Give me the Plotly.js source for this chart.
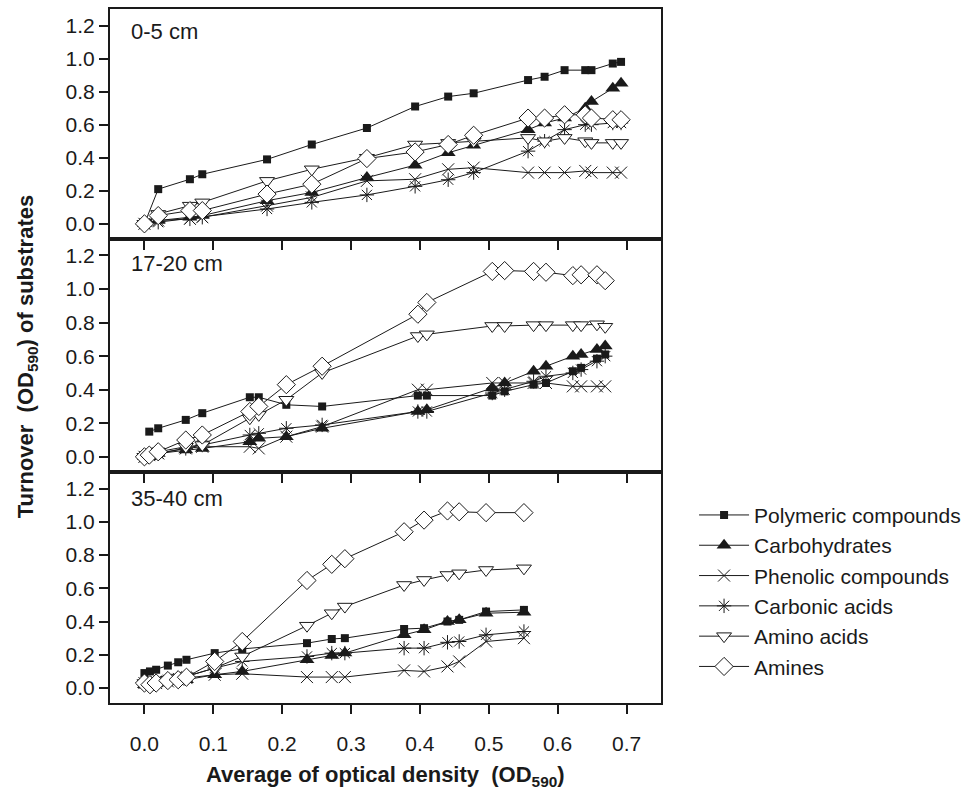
<!DOCTYPE html>
<html>
<head>
<meta charset="utf-8">
<script src="https://cdn.plot.ly/plotly-3.0.1.min.js"></script>
<style>html,body{margin:0;padding:0;background:#fff;}#chart{width:975px;height:799px;}</style>
</head>
<body>
<div id="chart"></div>
<script>
// ---- data ----
const seriesNames = ['Polymeric compounds','Carbohydrates','Phenolic compounds','Carbonic acids','Amino acids','Amines'];
const panelLabels = ['0-5 cm','17-20 cm','35-40 cm'];
const xTickVals = [0,0.1,0.2,0.3,0.4,0.5,0.6,0.7];
const xTickText = ['0.0','0.1','0.2','0.3','0.4','0.5','0.6','0.7'];
const yTickVals = [0,0.2,0.4,0.6,0.8,1.0,1.2];
const yTickText = ['0.0','0.2','0.4','0.6','0.8','1.0','1.2'];

// 0-5 cm
const od_0_5      = [0.0, 0.02, 0.066, 0.084, 0.178, 0.243, 0.323, 0.393, 0.441, 0.478, 0.557, 0.581, 0.610, 0.640, 0.649, 0.680, 0.692];
const poly_0_5    = [0.0, 0.21, 0.27, 0.30, 0.39, 0.48, 0.58, 0.71, 0.77, 0.79, 0.87, 0.89, 0.93, 0.93, 0.93, 0.97, 0.98];
const carb_0_5    = [0.0, 0.02, 0.04, 0.05, 0.14, 0.19, 0.28, 0.355, 0.43, 0.476, 0.57, 0.61, 0.64, 0.70, 0.74, 0.82, 0.85];
const phen_0_5    = [0.0, 0.02, 0.03, 0.04, 0.11, 0.16, 0.26, 0.27, 0.33, 0.34, 0.31, 0.31, 0.31, 0.32, 0.31, 0.31, 0.31];
const carbac_0_5  = [0.0, 0.01, 0.03, 0.04, 0.09, 0.13, 0.175, 0.227, 0.267, 0.31, 0.44, 0.50, 0.57, 0.60, 0.60, 0.61, 0.61];
const amino_0_5   = [0.0, 0.06, 0.11, 0.13, 0.26, 0.33, 0.40, 0.48, 0.49, 0.50, 0.52, 0.50, 0.52, 0.50, 0.49, 0.49, 0.49];
const amines_0_5  = [0.0, 0.05, 0.08, 0.08, 0.18, 0.24, 0.395, 0.435, 0.48, 0.536, 0.64, 0.64, 0.66, 0.66, 0.64, 0.63, 0.63];

// 17-20 cm
const od_17_20     = [0.0, 0.007, 0.02, 0.06, 0.084, 0.153, 0.166, 0.206, 0.258, 0.397, 0.41, 0.505, 0.523, 0.565, 0.583, 0.622, 0.634, 0.657, 0.669];
const poly_17_20   = [null, 0.15, 0.17, 0.22, 0.26, 0.355, 0.355, 0.31, 0.30, 0.365, 0.365, 0.365, 0.39, 0.43, 0.44, 0.51, 0.53, 0.585, 0.61];
const carb_17_20   = [0.0, 0.0, 0.02, 0.04, 0.05, 0.09, 0.11, 0.12, 0.17, 0.27, 0.28, 0.41, 0.44, 0.51, 0.54, 0.60, 0.61, 0.64, 0.66];
const phen_17_20   = [0.0, 0.01, 0.02, 0.05, 0.06, 0.06, 0.05, 0.12, 0.18, 0.40, 0.40, 0.44, 0.44, 0.44, 0.44, 0.42, 0.42, 0.42, 0.42];
const carbac_17_20 = [0.0, 0.01, 0.02, 0.05, 0.07, 0.13, 0.14, 0.17, 0.19, 0.27, 0.27, 0.38, 0.40, 0.45, 0.48, 0.50, 0.52, 0.57, 0.60];
const amino_17_20  = [0.0, 0.01, 0.03, 0.06, 0.07, 0.23, 0.25, 0.34, 0.50, 0.72, 0.73, 0.78, 0.78, 0.785, 0.785, 0.785, 0.785, 0.79, 0.775];
const amines_17_20 = [0.0, 0.01, 0.03, 0.10, 0.13, 0.27, 0.30, 0.43, 0.54, 0.85, 0.92, 1.105, 1.11, 1.105, 1.10, 1.08, 1.085, 1.085, 1.05];

// 35-40 cm
const od_35_40     = [0.0, 0.008, 0.017, 0.034, 0.049, 0.061, 0.102, 0.142, 0.236, 0.272, 0.291, 0.377, 0.406, 0.44, 0.457, 0.496, 0.551];
const poly_35_40   = [0.09, 0.10, 0.11, 0.135, 0.155, 0.17, 0.21, 0.235, 0.27, 0.295, 0.30, 0.355, 0.36, 0.40, 0.41, 0.46, 0.47];
const carb_35_40   = [0.02, 0.02, 0.03, 0.04, 0.05, 0.05, 0.08, 0.10, 0.17, 0.195, 0.21, 0.32, 0.35, 0.40, 0.41, 0.45, 0.456];
const phen_35_40   = [0.03, 0.03, 0.03, 0.04, 0.05, 0.06, 0.08, 0.086, 0.066, 0.066, 0.066, 0.106, 0.10, 0.13, 0.16, 0.28, 0.30];
const carbac_35_40 = [0.03, 0.03, 0.04, 0.05, 0.06, 0.07, 0.12, 0.16, 0.19, 0.21, 0.21, 0.24, 0.24, 0.275, 0.28, 0.32, 0.34];
const amino_35_40  = [0.03, 0.03, 0.04, 0.05, 0.06, 0.07, 0.12, 0.19, 0.375, 0.45, 0.49, 0.62, 0.65, 0.68, 0.69, 0.71, 0.72];
const amines_35_40 = [0.03, 0.02, 0.03, 0.045, 0.05, 0.065, 0.16, 0.28, 0.647, 0.744, 0.778, 0.94, 1.01, 1.065, 1.06, 1.055, 1.055];

// ---- build ----
const FONT = 'Liberation Sans, Arial, Helvetica, sans-serif';
const INK = '#1a1a1a';
const markerStyles = [
  {symbol:'square', size:8, color:INK, line:{color:INK, width:0}},
  {symbol:'triangle-up', size:13, color:INK, line:{color:INK, width:0}},
  {symbol:'x-thin-open', size:12, color:INK, line:{color:INK, width:1}},
  {symbol:'asterisk-open', size:12, color:INK, line:{color:INK, width:1}},
  {symbol:'triangle-down', size:13, color:'#ffffff', line:{color:INK, width:1}},
  {symbol:'diamond', size:14, color:'#ffffff', line:{color:INK, width:1}}
];
const panels = [
  {x: od_0_5,   ys: [poly_0_5, carb_0_5, phen_0_5, carbac_0_5, amino_0_5, amines_0_5], xa:'x', ya:'y'},
  {x: od_17_20, ys: [poly_17_20, carb_17_20, phen_17_20, carbac_17_20, amino_17_20, amines_17_20], xa:'x2', ya:'y2'},
  {x: od_35_40, ys: [poly_35_40, carb_35_40, phen_35_40, carbac_35_40, amino_35_40, amines_35_40], xa:'x3', ya:'y3'}
];
const traces = [];
panels.forEach((p, pi) => {
  p.ys.forEach((yv, si) => {
    traces.push({
      type:'scatter', mode:'lines+markers',
      x: p.x, y: yv, xaxis: p.xa, yaxis: p.ya,
      name: seriesNames[si], legendgroup: seriesNames[si],
      showlegend: pi === 0,
      connectgaps: false,
      line:{color:INK, width:1},
      marker: markerStyles[si],
      cliponaxis: false
    });
  });
});

const xBase = {
  range:[-0.05, 0.75], tickvals:xTickVals, ticktext:xTickText,
  ticks:'outside', ticklen:9, tickwidth:2, tickcolor:INK,
  showline:true, linewidth:2, linecolor:INK, mirror:true,
  showgrid:false, zeroline:false,
  tickfont:{family:FONT, size:21, color:INK}
};
const yBase = {
  range:[-0.09, 1.30], tickvals:yTickVals, ticktext:yTickText,
  ticks:'outside', ticklen:9, tickwidth:2, tickcolor:INK,
  showline:true, linewidth:2, linecolor:INK, mirror:true,
  showgrid:false, zeroline:false,
  tickfont:{family:FONT, size:21, color:INK}
};
const doms = [[0.669,1],[0.333,0.669],[0,0.333]];
const layout = {
  width:975, height:799,
  margin:{l:110, r:307, t:9, b:96},
  paper_bgcolor:'#fff', plot_bgcolor:'#fff',
  showlegend:true,
  legend:{x:1.06, xanchor:'left', y:0.30, yanchor:'top',
    font:{family:FONT, size:21, color:INK}, itemwidth:50, tracegroupgap:0,
    bgcolor:'rgba(0,0,0,0)'},
  xaxis: Object.assign({}, xBase, {anchor:'y', showticklabels:false}),
  xaxis2: Object.assign({}, xBase, {anchor:'y2', showticklabels:false, matches:'x'}),
  xaxis3: Object.assign({}, xBase, {anchor:'y3', matches:'x', ticklabelstandoff:12}),
  yaxis: Object.assign({}, yBase, {domain:doms[0], anchor:'x'}),
  yaxis2: Object.assign({}, yBase, {domain:doms[1], anchor:'x2'}),
  yaxis3: Object.assign({}, yBase, {domain:doms[2], anchor:'x3'}),
  annotations: [
    {text:panelLabels[0], xref:'paper', yref:'y domain', x:0.034, y:0.9, xanchor:'left', yanchor:'middle', showarrow:false, font:{family:FONT, size:22, color:INK}},
    {text:panelLabels[1], xref:'paper', yref:'y2 domain', x:0.034, y:0.893, xanchor:'left', yanchor:'middle', showarrow:false, font:{family:FONT, size:22, color:INK}},
    {text:panelLabels[2], xref:'paper', yref:'y3 domain', x:0.034, y:0.886, xanchor:'left', yanchor:'middle', showarrow:false, font:{family:FONT, size:22, color:INK}},
    {text:'<b>Turnover  (OD<sub>590</sub>) of substrates</b>', xref:'paper', yref:'paper', x:-0.15, y:0.5, xanchor:'center', yanchor:'middle', textangle:-90, showarrow:false, font:{family:FONT, size:22, color:INK}},
    {text:'<b>Average of optical density  (OD<sub>590</sub>)</b>', xref:'paper', yref:'paper', x:0.5, y:-0.105, xanchor:'center', yanchor:'middle', showarrow:false, font:{family:FONT, size:22, color:INK}}
  ]
};
Plotly.newPlot('chart', traces, layout, {displayModeBar:false, staticPlot:true});
</script>
</body>
</html>
